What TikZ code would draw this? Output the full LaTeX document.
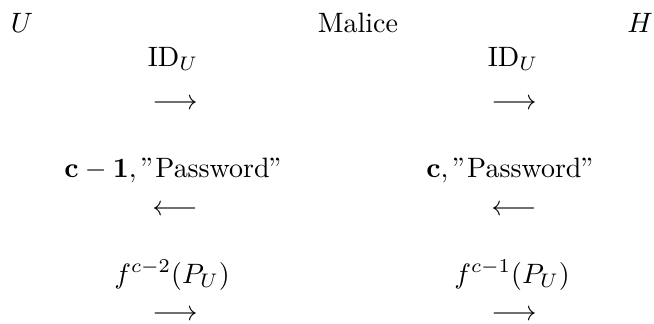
\documentclass[tikz,border=0pt]{standalone}
\begin{document}
\begin{tikzpicture}[x=0.357pt,y=-0.357pt,
  lbl/.style={inner sep=0pt,outer sep=0pt},
  arr/.style={inner sep=0pt,outer sep=0pt,anchor=center}]
\useasboundingbox (0,0) rectangle (654,323);
% headings
\node[lbl,anchor=base west] (u) at (11,32) {$U$};
\node[lbl,anchor=base] (m) at (358,32) {Malice};
\node[lbl,anchor=base east] (h) at (653,32) {$H$};
% row 1
\node[lbl,anchor=base] (t1l) at (173,66) {$\mathrm{ID}_U$};
\node[lbl,anchor=base] (t1r) at (513,66) {$\mathrm{ID}_U$};
\node[arr] (a1l) at (175,104) {$\longrightarrow$};
\node[arr] (a1r) at (514,104) {$\longrightarrow$};
% row 2
\node[lbl,anchor=base] (t2l) at (174,177) {$\mathbf{c-1},"\mathrm{Password}"$};
\node[lbl,anchor=base] (t2r) at (511,177) {$\mathbf{c},"\mathrm{Password}"$};
\node[arr] (a2l) at (175,210) {$\longleftarrow$};
\node[arr] (a2r) at (514,210) {$\longleftarrow$};
% row 3
\node[lbl,anchor=base] (t3l) at (172,283) {$f^{c-2}(P_U)$};
\node[lbl,anchor=base] (t3r) at (512,283) {$f^{c-1}(P_U)$};
\node[arr] (a3l) at (175,315) {$\longrightarrow$};
\node[arr] (a3r) at (514,315) {$\longrightarrow$};
\end{tikzpicture}
\end{document}
